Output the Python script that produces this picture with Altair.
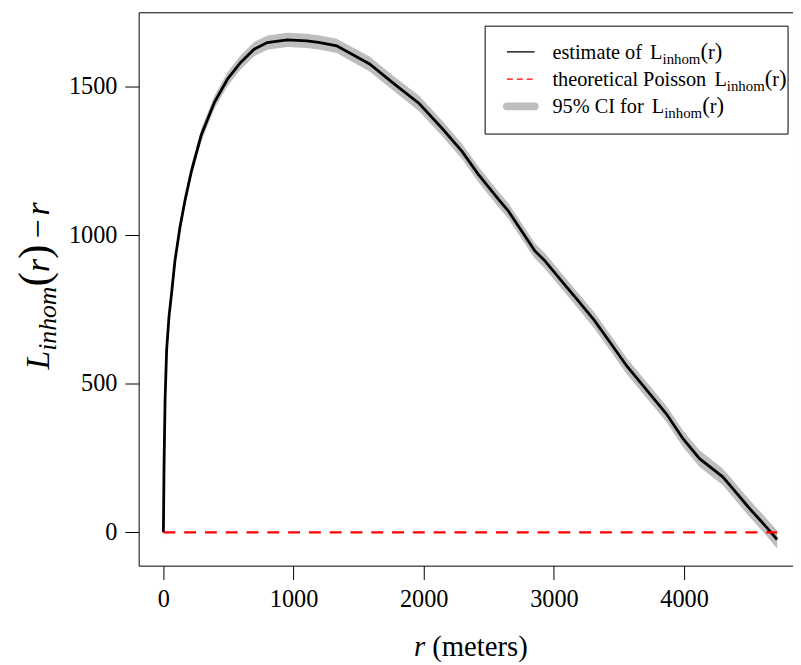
import altair as alt
import pandas as pd

# ---------------- data ----------------
r_vals = [0, 5, 13, 25, 43, 63, 89, 127, 165, 215, 291, 393, 494, 595, 697, 798,
          951, 1103, 1204, 1331, 1584, 1787, 1965, 2142, 2294, 2421, 2573, 2649,
          2751, 2852, 2928, 3055, 3181, 3308, 3435, 3561, 3739, 3865, 3992, 4119,
          4297, 4373, 4500, 4626, 4715]
est = [0, 226, 448, 615, 726, 805, 915, 1026, 1115, 1215, 1337, 1448, 1526, 1582,
       1626, 1648, 1657, 1654, 1648, 1637, 1576, 1504, 1443, 1359, 1282, 1204, 1121,
       1082, 1015, 948, 915, 848, 782, 715, 637, 559, 465, 398, 315, 248, 187, 148,
       82, 21, -24]
ci_lo = [-24, 215, 436, 601, 710, 788, 897, 1007, 1095, 1194, 1316, 1426, 1503, 1558,
         1602, 1624, 1633, 1630, 1624, 1613, 1551, 1479, 1417, 1333, 1256, 1178, 1095,
         1056, 989, 922, 889, 822, 756, 688, 610, 532, 438, 371, 287, 220, 159, 120,
         53, -8, -54]
ci_hi = [5, 237, 460, 629, 742, 822, 933, 1045, 1135, 1236, 1358, 1470, 1549, 1606,
         1650, 1672, 1681, 1678, 1672, 1661, 1601, 1529, 1469, 1385, 1308, 1230, 1147,
         1108, 1041, 974, 941, 874, 808, 742, 664, 586, 492, 425, 343, 276, 215, 176,
         111, 50, 6]
theo_r = [0, 4715]
theo_v = [0, 0]
x_ticks = [0, 1000, 2000, 3000, 4000]
y_ticks = [0, 500, 1000, 1500]

legend_rows = ["estimate of", "theoretical Poisson", "95% CI for"]

# ---------------- layout ----------------
W, H = 661, 559
FONT = "Liberation Serif"
xs = alt.Scale(domain=[-190, 4837], nice=False, zero=False)
ys = alt.Scale(domain=[-112, 1750], nice=False, zero=False)

ax_x = alt.Axis(values=x_ticks, title=None, grid=False, domain=False, tickSize=14,
                tickColor="black", labelColor="black", labelFont=FONT,
                labelFontSize=24.5, labelPadding=8, format="d")
ax_y = alt.Axis(values=y_ticks, title=None, grid=False, domain=False, tickSize=14,
                tickColor="black", labelColor="black", labelFont=FONT,
                labelFontSize=24.5, labelPadding=8, format="d")

df = pd.DataFrame({"r": r_vals, "est": est, "lo": ci_lo, "hi": ci_hi})
df_theo = pd.DataFrame({"r": theo_r, "v": theo_v})
dummy = pd.DataFrame({"k": [0]})

band = alt.Chart(df).mark_area(color="#BEBEBE", opacity=1).encode(
    x=alt.X("r:Q", scale=xs, axis=ax_x),
    y=alt.Y("lo:Q", scale=ys, axis=ax_y),
    y2="hi:Q",
)
line = alt.Chart(df).mark_line(color="black", strokeWidth=2.8).encode(
    x=alt.X("r:Q", scale=xs, axis=ax_x),
    y=alt.Y("est:Q", scale=ys, axis=ax_y),
)
theo = alt.Chart(df_theo).mark_line(color="#FF0000", strokeWidth=2.5,
                                    strokeDash=[12, 9]).encode(
    x=alt.X("r:Q", scale=xs, axis=ax_x),
    y=alt.Y("v:Q", scale=ys, axis=ax_y),
)

# ---------- text helpers ----------
ROMAN = {' ': 250, 'e': 444, 's': 389, 't': 278, 'i': 278, 'm': 778, 'a': 444,
         'o': 500, 'f': 333, 'h': 500, 'r': 333, 'c': 444, 'l': 278, 'P': 556,
         'n': 500, '9': 500, '5': 500, '%': 833, 'C': 667, 'I': 333, 'L': 611,
         '(': 333, ')': 333, '\u2212': 564}
ITAL = {'L': 556, 'i': 278, 'n': 500, 'h': 500, 'o': 500, 'm': 722, 'r': 389,
        '(': 333, ')': 333, '\u2212': 675}


def tw(s, size, italic=False):
    tab = ITAL if italic else ROMAN
    return sum(tab.get(c, 500) for c in s) * size / 1000.0


def txt(s, x, y, size, italic=False, angle=0, align="left"):
    kw = dict(font=FONT, fontSize=size, color="black", align=align,
              baseline="alphabetic", text=s)
    if italic:
        kw["fontStyle"] = "italic"
    if angle:
        kw["angle"] = angle
    return alt.Chart(dummy).mark_text(**kw).encode(x=alt.value(x), y=alt.value(y))


layers = [band, line, theo]

# ---------- y-axis title: L_inhom(r) - r (rotated) ----------
ybase, ysub = -91, -84
pieces = [("L", 34, True, ybase, 0), ("inhom", 26, True, ysub, 0),
          ("(", 44, False, ybase, 0), ("r", 34, True, ybase, 0),
          (")", 44, False, ybase, 0), ("\u2212", 34, False, ybase, 6),
          ("r", 34, True, ybase, 4)]
total = sum(tw(s, sz, it) + g for s, sz, it, _, g in pieces)
ypos = H / 2 - 3 + total / 2
for s, sz, it, xb, g in pieces:
    ypos -= g
    layers.append(txt(s, xb, ypos, sz, it, angle=270))
    ypos -= tw(s, sz, it)

# ---------- x-axis title: r (meters) ----------
xc = (165 + 0.1315 * 2362 - 140)  # centre of R's plot region in plot px
xt_w = tw("r", 29, True) + tw(" (meters)", 29)
x0 = xc - xt_w / 2
layers.append(txt("r", x0, 650, 29, True))
layers.append(txt("(meters)", x0 + tw("r", 29, True) + tw(" ", 29), 650, 29))

# ---------- legend ----------
lx0, lx1, ly0, ly1 = 350, 656, 14, 123
layers.append(alt.Chart(dummy).mark_rect(fill="white", stroke="black", strokeWidth=1).encode(
    x=alt.value(lx0), x2=alt.value(lx1), y=alt.value(ly0), y2=alt.value(ly1)))
row_c = [40, 67.5, 95]
layers.append(alt.Chart(dummy).mark_rule(color="black", strokeWidth=1.3).encode(
    x=alt.value(372), x2=alt.value(400), y=alt.value(row_c[0])))
layers.append(alt.Chart(dummy).mark_rule(color="#FF0000", strokeWidth=1.3,
                                         strokeDash=[6, 4]).encode(
    x=alt.value(372), x2=alt.value(400), y=alt.value(row_c[1])))
layers.append(alt.Chart(dummy).mark_rule(color="#BEBEBE", strokeWidth=8,
                                         strokeCap="round").encode(
    x=alt.value(372), x2=alt.value(400), y=alt.value(row_c[2])))

LF, LS, LP = 20.5, 15, 23
for lab, cy in zip(legend_rows, row_c):
    bl = cy + 7
    xp = 418
    layers.append(txt(lab, xp, bl, LF))
    xp += tw(lab + " ", LF) + 3
    layers.append(txt("L", xp, bl, LF))
    xp += tw("L", LF)
    layers.append(txt("inhom", xp, bl + 5, LS))
    xp += tw("inhom", LS)
    layers.append(txt("(", xp, bl, LP))
    xp += tw("(", LP)
    layers.append(txt("r", xp, bl, LF))
    xp += tw("r", LF)
    layers.append(txt(")", xp, bl, LP))

chart = alt.layer(*layers).properties(
    width=W, height=H,
    autosize=alt.AutoSizeParams(type="none"),
    padding={"left": 132, "top": 1, "right": 0, "bottom": 95},
    background="white",
).configure_view(stroke="black", strokeWidth=1)

chart.save("out.html", embed_options={"renderer": "svg", "actions": False})
